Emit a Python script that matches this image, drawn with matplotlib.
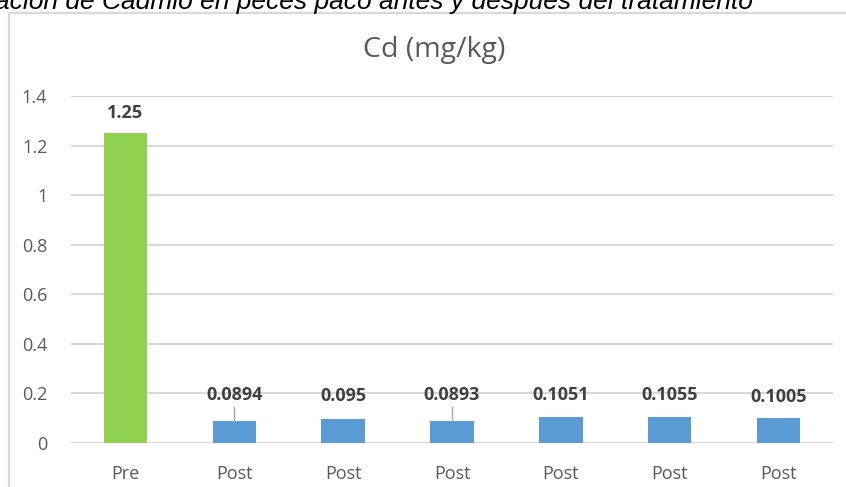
import numpy as np
import matplotlib.pyplot as plt
from matplotlib.patches import Rectangle

# ---------------------------------------------------------------------------
# data
# ---------------------------------------------------------------------------
categories = ['Pre', 'Post', 'Post', 'Post', 'Post', 'Post', 'Post']
cd_values = [1.25, 0.0894, 0.095, 0.0893, 0.1051, 0.1055, 0.1005]
labels = ['1.25', '0.0894', '0.095', '0.0893', '0.1051', '0.1055', '0.1005']
yticks = [0, 0.2, 0.4, 0.6, 0.8, 1.0, 1.2, 1.4]
ytick_labels = ['0', '0.2', '0.4', '0.6', '0.8', '1', '1.2', '1.4']

# label heights (labels were dragged around in the original chart)
label_y = [1.33, 0.195, 0.19, 0.195, 0.195, 0.195, 0.185]
leader = [False, True, False, True, False, False, False]

colors = ['#92D050'] + ['#5B9BD5'] * 6
grid_col = '#D9D9D9'
text_col = '#595959'

plt.rcParams['font.family'] = ['Open Sans', 'DejaVu Sans']

W, H = 846, 487
fig = plt.figure(figsize=(W / 100, H / 100), dpi=100)

# chart frame (cut off on the right and bottom)
fig.patches.append(Rectangle((9 / W, -0.1), 1.2, (H - 12.5) / H + 0.1,
                             transform=fig.transFigure, fill=False,
                             edgecolor=grid_col, linewidth=1.6))

# caption above the chart, cropped at the top and left
fig.text(753 / W, 1 - 9 / H,
         'ación de Cadmio en peces paco antes y después del tratamiento',
         ha='right', va='baseline', fontsize=19, style='italic',
         family=['Liberation Sans', 'DejaVu Sans'], color='black')

ax = fig.add_axes([71 / W, 44 / H, (833 - 71) / W, (443 - 96) / H])

x = np.arange(len(categories))
ax.bar(x, cd_values, width=0.40, color=colors, zorder=3)

for i in range(len(x)):
    ax.text(x[i], label_y[i], labels[i], ha='center', va='center',
            fontsize=13, fontweight='bold', color='#404040', zorder=4)
    if leader[i]:
        ax.plot([x[i], x[i]], [cd_values[i], 0.145], color='#A6A6A6',
                linewidth=1, zorder=4)

ax.set_xlim(-0.5, len(x) - 0.5)
ax.set_ylim(0, 1.4)
ax.set_yticks(yticks)
ax.set_yticklabels(ytick_labels)
ax.set_xticks(x)
ax.set_xticklabels(categories)
ax.tick_params(axis='both', length=0, labelsize=13, colors=text_col)
ax.tick_params(axis='y', pad=17)
ax.tick_params(axis='x', pad=16)
ax.yaxis.grid(True, color=grid_col, linewidth=1.5, zorder=0)
for s in ax.spines.values():
    s.set_visible(False)

fig.text(434.5 / W, 1 - 50 / H, 'Cd (mg/kg)', ha='center', va='center',
         fontsize=20.5, color=text_col)

plt.savefig('out.png', dpi=100)
